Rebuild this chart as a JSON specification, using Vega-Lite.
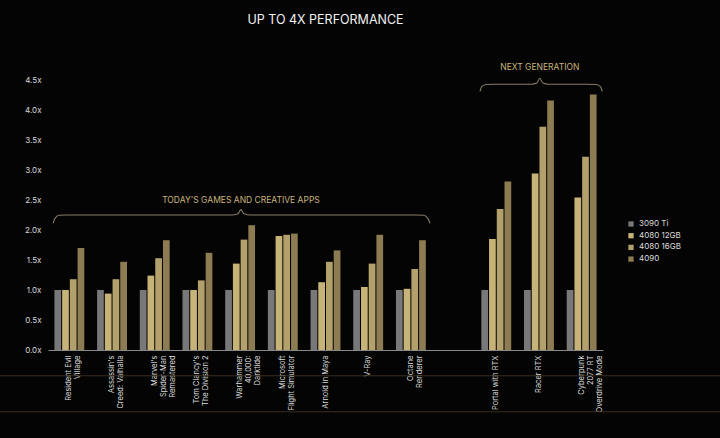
{
  "$schema": "https://vega.github.io/schema/vega-lite/v6.json",
  "width": 555,
  "height": 300,
  "autosize": "none",
  "padding": {"left": 48, "top": 50, "right": 117, "bottom": 88},
  "background": "#040404",
  "title": {
    "text": "UP TO 4X PERFORMANCE",
    "color": "#f2f2f2",
    "font": "Inter",
    "fontSize": 12.5,
    "fontWeight": "normal",
    "anchor": "middle",
    "offset": 24
  },
  "config": {
    "view": {"stroke": null},
    "font": "Inter",
    "axis": {"labelOverlap": false},
    "axisY": {
      "title": null,
      "labelFontSize": 8,
      "labelColor": "#d8d8d8",
      "labelPadding": 7,
      "labelOverlap": false,
      "ticks": false,
      "domain": false,
      "grid": false
    }
  },
  "datasets": {
    "bars": [
      {"game": "Resident Evil|Village", "gpu": "3090 Ti", "value": 1.0},
      {"game": "Resident Evil|Village", "gpu": "4080 12GB", "value": 1.0},
      {"game": "Resident Evil|Village", "gpu": "4080 16GB", "value": 1.18},
      {"game": "Resident Evil|Village", "gpu": "4090", "value": 1.7},
      {"game": "Assassin's|Creed: Valhalla", "gpu": "3090 Ti", "value": 1.0},
      {"game": "Assassin's|Creed: Valhalla", "gpu": "4080 12GB", "value": 0.94},
      {"game": "Assassin's|Creed: Valhalla", "gpu": "4080 16GB", "value": 1.18},
      {"game": "Assassin's|Creed: Valhalla", "gpu": "4090", "value": 1.47},
      {"game": "Marvel's|Spider-Man|Remastered", "gpu": "3090 Ti", "value": 1.0},
      {"game": "Marvel's|Spider-Man|Remastered", "gpu": "4080 12GB", "value": 1.24},
      {"game": "Marvel's|Spider-Man|Remastered", "gpu": "4080 16GB", "value": 1.53},
      {"game": "Marvel's|Spider-Man|Remastered", "gpu": "4090", "value": 1.83},
      {"game": "Tom Clancy's|The Division 2", "gpu": "3090 Ti", "value": 1.0},
      {"game": "Tom Clancy's|The Division 2", "gpu": "4080 12GB", "value": 1.0},
      {"game": "Tom Clancy's|The Division 2", "gpu": "4080 16GB", "value": 1.16},
      {"game": "Tom Clancy's|The Division 2", "gpu": "4090", "value": 1.62},
      {"game": "Warhammer|40,000:|Darktide", "gpu": "3090 Ti", "value": 1.0},
      {"game": "Warhammer|40,000:|Darktide", "gpu": "4080 12GB", "value": 1.44},
      {"game": "Warhammer|40,000:|Darktide", "gpu": "4080 16GB", "value": 1.84},
      {"game": "Warhammer|40,000:|Darktide", "gpu": "4090", "value": 2.08},
      {"game": "Microsoft|Flight Simulator", "gpu": "3090 Ti", "value": 1.0},
      {"game": "Microsoft|Flight Simulator", "gpu": "4080 12GB", "value": 1.9},
      {"game": "Microsoft|Flight Simulator", "gpu": "4080 16GB", "value": 1.92},
      {"game": "Microsoft|Flight Simulator", "gpu": "4090", "value": 1.94},
      {"game": "Arnold in Maya", "gpu": "3090 Ti", "value": 1.0},
      {"game": "Arnold in Maya", "gpu": "4080 12GB", "value": 1.13},
      {"game": "Arnold in Maya", "gpu": "4080 16GB", "value": 1.47},
      {"game": "Arnold in Maya", "gpu": "4090", "value": 1.66},
      {"game": "V-Ray", "gpu": "3090 Ti", "value": 1.0},
      {"game": "V-Ray", "gpu": "4080 12GB", "value": 1.05},
      {"game": "V-Ray", "gpu": "4080 16GB", "value": 1.44},
      {"game": "V-Ray", "gpu": "4090", "value": 1.92},
      {"game": "Octane|Renderer", "gpu": "3090 Ti", "value": 1.0},
      {"game": "Octane|Renderer", "gpu": "4080 12GB", "value": 1.02},
      {"game": "Octane|Renderer", "gpu": "4080 16GB", "value": 1.35},
      {"game": "Octane|Renderer", "gpu": "4090", "value": 1.83},
      {"game": "Portal with RTX", "gpu": "3090 Ti", "value": 1.0},
      {"game": "Portal with RTX", "gpu": "4080 12GB", "value": 1.85},
      {"game": "Portal with RTX", "gpu": "4080 16GB", "value": 2.35},
      {"game": "Portal with RTX", "gpu": "4090", "value": 2.81},
      {"game": "Racer RTX", "gpu": "3090 Ti", "value": 1.0},
      {"game": "Racer RTX", "gpu": "4080 12GB", "value": 2.94},
      {"game": "Racer RTX", "gpu": "4080 16GB", "value": 3.72},
      {"game": "Racer RTX", "gpu": "4090", "value": 4.16},
      {"game": "Cyberpunk|2077 RT|Overdrive Mode", "gpu": "3090 Ti", "value": 1.0},
      {"game": "Cyberpunk|2077 RT|Overdrive Mode", "gpu": "4080 12GB", "value": 2.54},
      {"game": "Cyberpunk|2077 RT|Overdrive Mode", "gpu": "4080 16GB", "value": 3.22},
      {"game": "Cyberpunk|2077 RT|Overdrive Mode", "gpu": "4090", "value": 4.26}
    ],
    "brackets": [
      {"group": "today", "x": 0.12, "y": 2.11},
      {"group": "today", "x": 0.16, "y": 2.19},
      {"group": "today", "x": 0.26, "y": 2.245},
      {"group": "today", "x": 0.45, "y": 2.25},
      {"group": "today", "x": 4.3, "y": 2.25},
      {"group": "today", "x": 4.45, "y": 2.27},
      {"group": "today", "x": 4.52, "y": 2.34},
      {"group": "today", "x": 4.59, "y": 2.27},
      {"group": "today", "x": 4.74, "y": 2.25},
      {"group": "today", "x": 8.6, "y": 2.25},
      {"group": "today", "x": 8.8, "y": 2.245},
      {"group": "today", "x": 8.9, "y": 2.19},
      {"group": "today", "x": 8.95, "y": 2.11},
      {"group": "next", "x": 10.12, "y": 4.31},
      {"group": "next", "x": 10.16, "y": 4.39},
      {"group": "next", "x": 10.26, "y": 4.425},
      {"group": "next", "x": 10.45, "y": 4.43},
      {"group": "next", "x": 11.32, "y": 4.43},
      {"group": "next", "x": 11.45, "y": 4.45},
      {"group": "next", "x": 11.52, "y": 4.53},
      {"group": "next", "x": 11.59, "y": 4.45},
      {"group": "next", "x": 11.72, "y": 4.43},
      {"group": "next", "x": 12.6, "y": 4.43},
      {"group": "next", "x": 12.84, "y": 4.425},
      {"group": "next", "x": 12.94, "y": 4.39},
      {"group": "next", "x": 12.98, "y": 4.31}
    ],
    "bracketLabels": [
      {"x": 4.52, "y": 2.5, "label": "TODAY'S GAMES AND CREATIVE APPS"},
      {"x": 11.52, "y": 4.72, "label": "NEXT GENERATION"}
    ],
    "floor": [
      {"x": -1.13, "x2": 15.75, "y": -0.43},
      {"x": -1.13, "x2": 15.75, "y": -1.03}
    ]
  },
  "resolve": {"scale": {"x": "independent"}, "axis": {"x": "independent"}},
  "layer": [
    {
      "data": {"name": "bars"},
      "mark": {"type": "bar"},
      "encoding": {
        "x": {
          "field": "game",
          "type": "nominal",
          "sort": null,
          "scale": {
            "domain": ["Resident Evil|Village", "Assassin's|Creed: Valhalla", "Marvel's|Spider-Man|Remastered", "Tom Clancy's|The Division 2", "Warhammer|40,000:|Darktide", "Microsoft|Flight Simulator", "Arnold in Maya", "V-Ray", "Octane|Renderer", " ", "Portal with RTX", "Racer RTX", "Cyberpunk|2077 RT|Overdrive Mode"],
            "paddingInner": 0.3,
            "paddingOuter": 0.15
          },
          "axis": {
            "title": null,
            "labelExpr": "split(datum.label, '|')",
            "labelAngle": -90,
            "labelAlign": "right",
            "labelBaseline": "middle",
            "labelFontSize": 7.5,
            "labelLineHeight": 9,
            "labelColor": "#dcdcdc",
            "labelPadding": 5,
            "labelOverlap": false,
            "ticks": false,
            "domainColor": "#8a8a8a",
            "domainWidth": 1,
            "grid": false
          }
        },
        "xOffset": {
          "field": "gpu",
          "type": "nominal",
          "sort": ["3090 Ti", "4080 12GB", "4080 16GB", "4090"],
          "scale": {"paddingInner": 0.13, "paddingOuter": 0}
        },
        "y": {
          "field": "value",
          "type": "quantitative",
          "scale": {"domain": [0, 5], "nice": false},
          "axis": {
            "values": [0, 0.5, 1, 1.5, 2, 2.5, 3, 3.5, 4, 4.5],
            "labelExpr": "format(datum.value, '.1f') + 'x'",
            "labelOverlap": false
          }
        },
        "color": {
          "field": "gpu",
          "type": "nominal",
          "scale": {
            "domain": ["3090 Ti", "4080 12GB", "4080 16GB", "4090"],
            "range": ["#78787a", "#c7b277", "#b3a06b", "#8d7b52"]
          },
          "legend": {
            "title": null,
            "orient": "none",
            "legendX": 579,
            "legendY": 170,
            "symbolType": "square",
            "symbolSize": 28,
            "symbolStrokeWidth": 0,
            "labelFontSize": 8,
            "labelColor": "#dcdcdc",
            "labelOffset": 4,
            "rowPadding": 3.7
          }
        }
      }
    },
    {
      "data": {"name": "brackets"},
      "mark": {"type": "line", "interpolate": "monotone", "color": "#857c66", "strokeWidth": 1.1, "clip": false},
      "encoding": {
        "x": {"field": "x", "type": "quantitative", "scale": {"domain": [0, 13], "nice": false, "zero": false}, "axis": null},
        "y": {"field": "y", "type": "quantitative", "axis": {"values": [0, 0.5, 1, 1.5, 2, 2.5, 3, 3.5, 4, 4.5], "labelExpr": "format(datum.value, '.1f') + 'x'", "labelOverlap": false}},
        "detail": {"field": "group"}
      }
    },
    {
      "data": {"name": "bracketLabels"},
      "mark": {"type": "text", "color": "#c9b47d", "fontSize": 8.5, "font": "Inter", "align": "center", "baseline": "middle"},
      "encoding": {
        "x": {"field": "x", "type": "quantitative", "scale": {"domain": [0, 13], "nice": false, "zero": false}, "axis": null},
        "y": {"field": "y", "type": "quantitative", "axis": {"values": [0, 0.5, 1, 1.5, 2, 2.5, 3, 3.5, 4, 4.5], "labelExpr": "format(datum.value, '.1f') + 'x'", "labelOverlap": false}},
        "text": {"field": "label"}
      }
    },
    {
      "data": {"name": "floor"},
      "mark": {"type": "rule", "color": "#3b3020", "strokeWidth": 1, "clip": false},
      "encoding": {
        "x": {"field": "x", "type": "quantitative", "scale": {"domain": [0, 13], "nice": false, "zero": false}, "axis": null},
        "x2": {"field": "x2"},
        "y": {"field": "y", "type": "quantitative", "axis": {"values": [0, 0.5, 1, 1.5, 2, 2.5, 3, 3.5, 4, 4.5], "labelExpr": "format(datum.value, '.1f') + 'x'", "labelOverlap": false}}
      }
    }
  ]
}
